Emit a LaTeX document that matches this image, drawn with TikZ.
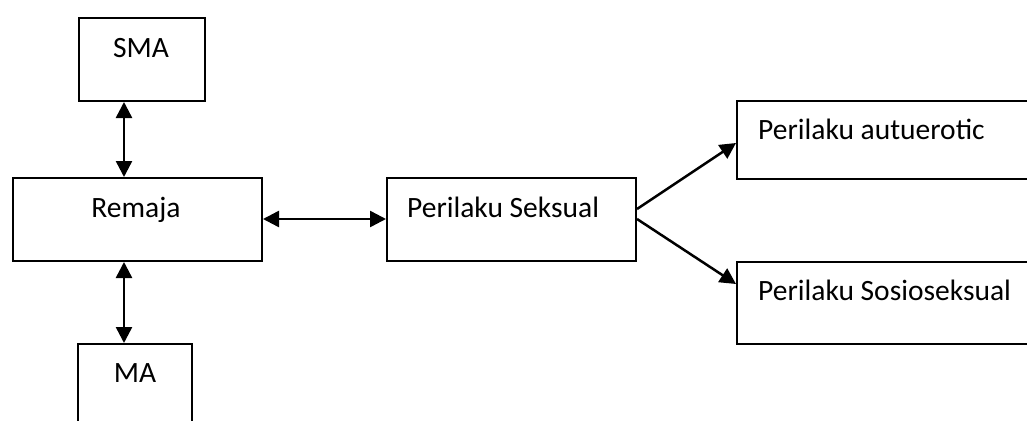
\documentclass[tikz,border=0pt]{standalone}
\usepackage{fontspec}
\setmainfont{Carlito}
\usetikzlibrary{arrows.meta}
\tikzset{
  box/.style={draw, line width=2pt, rectangle, inner sep=0pt, anchor=north west},
  lbl/.style={inner sep=0pt, font=\fontsize{29.5}{34}\selectfont},
  tip/.style={},
  conn/.style={line width=2.5pt, -{Triangle[length=16pt 0,width=16pt 0]}},
  dconn/.style={line width=2.5pt, {Triangle[length=16pt 0,width=16pt 0]}-{Triangle[length=16pt 0,width=16pt 0]}}
}
\begin{document}
\begin{tikzpicture}[x=1pt,y=-1pt]
\clip (0,0) rectangle (1027,420);
\fill[white] (0,0) rectangle (1027,420);
% boxes
\node[box, minimum width=126pt, minimum height=83pt] (sma) at (78,17) {};
\node[box, minimum width=249pt, minimum height=83pt] (remaja) at (12,177) {};
\node[box, minimum width=114pt, minimum height=90pt] (ma) at (77,343) {};
\node[box, minimum width=249pt, minimum height=83pt] (seks) at (386,177) {};
\node[box, minimum width=310pt, minimum height=78pt] (auto) at (736,100) {};
\node[box, minimum width=310pt, minimum height=82pt] (sosio) at (736,261) {};
% labels
\node[lbl, anchor=base] (tsma) at (141,57) {SMA};
\node[lbl, anchor=base] (tremaja) at (136,217) {Remaja};
\node[lbl, anchor=base] (tma) at (135,382) {MA};
\node[lbl, anchor=base west] (tseks) at (407,217) {Perilaku Seksual};
\node[lbl, anchor=base west] (tauto) at (758,139) {Perilaku autuerotic};
\node[lbl, anchor=base west] (tsosio) at (758,300) {Perilaku Sosioseksual};
% connector anchors
\coordinate (vx) at (124,0);
\coordinate (hy) at (0,219);
\coordinate (up) at (0,209);
\coordinate (ae) at (0,143);
\coordinate (se) at (0,284);
% connectors
\draw[dconn] (sma.south -| vx) -- (remaja.north -| vx);
\draw[dconn] (remaja.south -| vx) -- (ma.north -| vx);
\draw[dconn] (remaja.east |- hy) -- (seks.west |- hy);
\draw[conn] (seks.east |- up) -- (auto.west |- ae);
\draw[conn] (seks.east |- hy) -- (sosio.west |- se);
\end{tikzpicture}
\end{document}
